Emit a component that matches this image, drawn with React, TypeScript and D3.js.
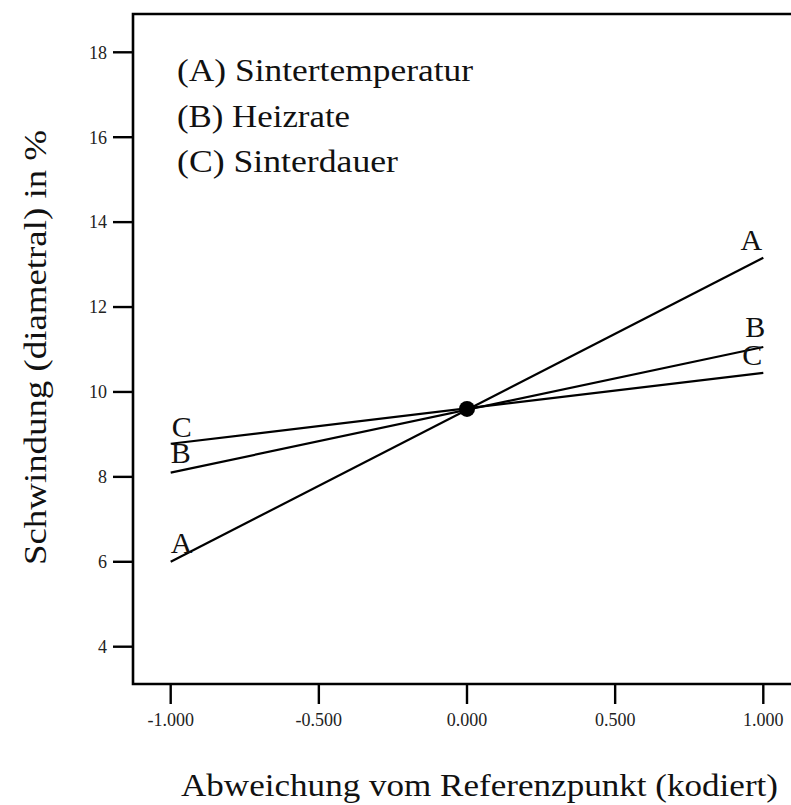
import React from "react";
import * as d3 from "d3";

const factors = ["A", "B", "C"];
const legendLabels = ["(A) Sintertemperatur", "(B) Heizrate", "(C) Sinterdauer"];
const lowValues = [6.0, 8.1, 8.78];
const highValues = [13.16, 11.06, 10.45];
const centerValue = 9.6;
const xTicks = [-1, -0.5, 0, 0.5, 1];
const yTicks = [4, 6, 8, 10, 12, 14, 16, 18];

const W = 791;
const H = 805;

export default function App() {
  const x = d3.scaleLinear().domain([-1, 1]).range([170.7, 763.3]);
  const y = d3.scaleLinear().domain([4, 18]).range([646.7, 52.3]);
  const left = 133;
  const top = 14;
  const bottom = 684;
  const font = "'Liberation Serif', 'DejaVu Serif', serif";
  const line = d3.line<[number, number]>().x(d => x(d[0])).y(d => y(d[1]));
  const fmt = (t: number) => d3.format(".3f")(t).replace("\u2212", "-");

  const leftLabelOffsets = [
    { dx: 11, dy: -9 },
    { dx: 10, dy: -9.5 },
    { dx: 11, dy: -7 },
  ];
  const rightLabelOffsets = [
    { dx: -12, dy: -8 },
    { dx: -8, dy: -10 },
    { dx: -11, dy: -8 },
  ];
  const legendLengths = [296, 173, 221];

  return (
    <svg width={W} height={H} style={{ position: "absolute", left: 0, top: 0, background: "#fff" }}>
      {/* frame */}
      <path
        d={`M${W + 5},${top} H${left} V${bottom} H${W + 5}`}
        fill="none"
        stroke="#000"
        strokeWidth={2.6}
      />
      {/* y ticks */}
      {yTicks.map(t => (
        <g key={"y" + t}>
          <line x1={113} x2={left} y1={y(t)} y2={y(t)} stroke="#000" strokeWidth={2.4} />
          <text x={107} y={y(t)} dy="0.35em" textAnchor="end" fontFamily={font} fontSize={18} fill="#222">
            {t}
          </text>
        </g>
      ))}
      {/* x ticks */}
      {xTicks.map(t => (
        <g key={"x" + t}>
          <line x1={x(t)} x2={x(t)} y1={bottom} y2={704} stroke="#000" strokeWidth={2.4} />
          <text x={x(t)} y={726} textAnchor="middle" fontFamily={font} fontSize={18} fill="#222">
            {fmt(t)}
          </text>
        </g>
      ))}
      {/* lines */}
      {factors.map((f, i) => (
        <path
          key={f}
          d={line([
            [-1, lowValues[i]],
            [1, highValues[i]],
          ]) || ""}
          fill="none"
          stroke="#000"
          strokeWidth={2.2}
        />
      ))}
      <circle cx={x(0)} cy={y(centerValue)} r={8} fill="#000" />
      {/* line labels */}
      {factors.map((f, i) => (
        <g key={"lab" + f}>
          <text
            x={x(-1) + leftLabelOffsets[i].dx}
            y={y(lowValues[i]) + leftLabelOffsets[i].dy}
            textAnchor="middle"
            fontFamily={font}
            fontSize={30}
            fill="#111"
          >
            {f}
          </text>
          <text
            x={x(1) + rightLabelOffsets[i].dx}
            y={y(highValues[i]) + rightLabelOffsets[i].dy}
            textAnchor="middle"
            fontFamily={font}
            fontSize={30}
            fill="#111"
          >
            {f}
          </text>
        </g>
      ))}
      {/* legend */}
      {legendLabels.map((l, i) => (
        <text
          key={l}
          x={177}
          y={81 + i * 45.5}
          fontFamily={font}
          fontSize={32}
          fill="#111"
          textLength={legendLengths[i]}
          lengthAdjust="spacingAndGlyphs"
        >
          {l}
        </text>
      ))}
      {/* axis titles */}
      <text
        x={181}
        y={796}
        fontFamily={font}
        fontSize={32}
        fill="#111"
        textLength={597}
        lengthAdjust="spacingAndGlyphs"
      >
        Abweichung vom Referenzpunkt (kodiert)
      </text>
      <text
        transform={`translate(46,565) rotate(-90)`}
        fontFamily={font}
        fontSize={32}
        fill="#111"
        textLength={435}
        lengthAdjust="spacingAndGlyphs"
      >
        Schwindung (diametral) in %
      </text>
    </svg>
  );
}
